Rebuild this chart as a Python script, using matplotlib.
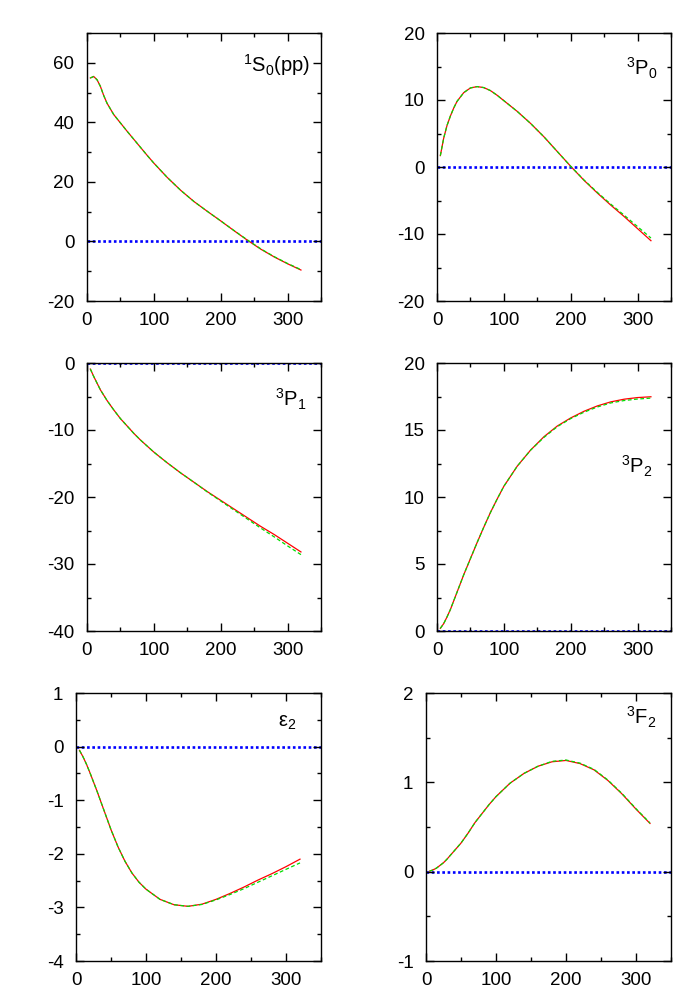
import matplotlib
matplotlib.use("Agg")
import matplotlib.pyplot as plt
from matplotlib.ticker import MultipleLocator

plt.rcParams['font.family'] = ['Liberation Sans', 'DejaVu Sans']
plt.rcParams['mathtext.fontset'] = 'custom'
plt.rcParams['mathtext.rm'] = 'Liberation Sans'
plt.rcParams['mathtext.it'] = 'Liberation Sans:italic'
plt.rcParams['mathtext.bf'] = 'Liberation Sans:bold'
plt.rcParams['axes.unicode_minus'] = False

energy = [5, 10, 15, 20, 25, 30, 40, 50, 60, 70, 80, 90, 100, 120, 140, 160,
          180, 200, 220, 240, 260, 280, 300, 320]

s0_red = [54.9, 55.4, 54.3, 52.1, 49.0, 46.4, 42.6, 39.8, 37.0, 34.3, 31.6, 28.9,
          26.3, 21.5, 17.2, 13.4, 10.1, 6.9, 3.6, 0.4, -2.6, -5.2, -7.5, -9.6]
s0_green = [54.9, 55.4, 54.3, 52.1, 49.0, 46.4, 42.6, 39.8, 37.0, 34.3, 31.6, 28.9,
            26.3, 21.5, 17.2, 13.4, 10.1, 6.9, 3.65, 0.5, -2.5, -5.1, -7.4, -9.45]

p0_red = [1.7, 4.3, 6.2, 7.6, 8.8, 9.8, 11.1, 11.8, 12.0, 11.85, 11.4, 10.7,
          9.9, 8.3, 6.5, 4.5, 2.3, 0.1, -2.0, -3.9, -5.7, -7.4, -9.2, -11.0]
p0_green = [1.7, 4.3, 6.2, 7.6, 8.8, 9.8, 11.1, 11.8, 12.0, 11.85, 11.4, 10.7,
            9.9, 8.3, 6.5, 4.5, 2.3, 0.1, -1.95, -3.8, -5.55, -7.2, -8.9, -10.6]

p1_red = [-0.9, -2.0, -3.0, -4.0, -4.8, -5.6, -7.0, -8.3, -9.4, -10.5, -11.5, -12.4,
          -13.3, -14.9, -16.4, -17.8, -19.2, -20.5, -21.8, -23.1, -24.4, -25.6, -26.9, -28.2]
p1_green = [-0.9, -2.0, -3.0, -4.0, -4.8, -5.6, -7.0, -8.3, -9.4, -10.5, -11.5, -12.4,
            -13.3, -14.9, -16.4, -17.8, -19.25, -20.6, -21.95, -23.3, -24.65, -25.95, -27.3, -28.6]

p2_red = [0.2, 0.55, 1.05, 1.6, 2.25, 2.9, 4.2, 5.4, 6.6, 7.75, 8.85, 9.85,
          10.8, 12.3, 13.5, 14.5, 15.3, 15.9, 16.4, 16.8, 17.1, 17.3, 17.42, 17.48]
p2_green = [0.2, 0.55, 1.05, 1.6, 2.25, 2.9, 4.2, 5.4, 6.6, 7.75, 8.85, 9.85,
            10.8, 12.3, 13.5, 14.45, 15.25, 15.85, 16.33, 16.72, 17.02, 17.2, 17.31, 17.38]

e2_red = [-0.07, -0.19, -0.33, -0.49, -0.66, -0.83, -1.19, -1.55, -1.87, -2.14, -2.36, -2.53,
          -2.66, -2.85, -2.95, -2.98, -2.94, -2.85, -2.74, -2.62, -2.49, -2.37, -2.24, -2.1]
e2_green = [-0.07, -0.19, -0.33, -0.49, -0.66, -0.83, -1.19, -1.55, -1.87, -2.14, -2.36, -2.53,
            -2.66, -2.85, -2.95, -2.98, -2.945, -2.86, -2.76, -2.65, -2.53, -2.41, -2.29, -2.17]

f2_red = [0.005, 0.02, 0.04, 0.07, 0.1, 0.14, 0.23, 0.32, 0.43, 0.55, 0.65, 0.75,
          0.84, 0.99, 1.1, 1.18, 1.23, 1.245, 1.21, 1.14, 1.02, 0.87, 0.7, 0.54]
f2_green = [0.005, 0.02, 0.04, 0.07, 0.1, 0.14, 0.23, 0.32, 0.43, 0.55, 0.65, 0.75,
            0.84, 0.99, 1.1, 1.18, 1.235, 1.25, 1.215, 1.145, 1.025, 0.875, 0.705, 0.545]

labels = [r'$^{1}$S$_{0}$(pp)', r'$^{3}$P$_{0}$', r'$^{3}$P$_{1}$',
          r'$^{3}$P$_{2}$', r'ε$_{2}$', r'$^{3}$F$_{2}$']
ylims = [(-20, 70), (-20, 20), (-40, 0), (0, 20), (-4, 1), (-1, 2)]
ymajor = [20, 10, 10, 5, 1, 1]
reds = [s0_red, p0_red, p1_red, p2_red, e2_red, f2_red]
greens = [s0_green, p0_green, p1_green, p2_green, e2_green, f2_green]

# layout (figure fractions)
rects = [
    (87 / 700, 0.699, 234 / 700, 0.268),
    (437 / 700, 0.699, 234 / 700, 0.268),
    (87 / 700, 0.369, 234 / 700, 0.268),
    (437 / 700, 0.369, 234 / 700, 0.268),
    (76 / 700, 0.039, 245 / 700, 0.268),
    (426 / 700, 0.039, 245 / 700, 0.268),
]
label_pos = [(0.953, 0.855), (0.944, 0.843), (0.936, 0.836),
             (0.922, 0.586), (0.898, 0.874), (0.939, 0.881)]

fig = plt.figure(figsize=(7, 10), dpi=100)
for i in range(6):
    ax = fig.add_axes(rects[i])
    ax.axhline(0, color='#0000ff', lw=1.9, linestyle=(0, (1, 1)), zorder=1)
    ax.plot(energy, reds[i], color='#ff0000', lw=0.9, zorder=2)
    ax.plot(energy, greens[i], color='#00dd00', lw=0.9, linestyle=(0, (3, 2)), zorder=3)
    ax.set_xlim(0, 350)
    ax.set_ylim(*ylims[i])
    ax.xaxis.set_major_locator(MultipleLocator(100))
    ax.xaxis.set_minor_locator(MultipleLocator(50))
    ax.yaxis.set_major_locator(MultipleLocator(ymajor[i]))
    ax.yaxis.set_minor_locator(MultipleLocator(ymajor[i] / 2))
    ax.tick_params(which='both', direction='in', top=True, right=True,
                   width=1.0, labelsize=13.5)
    ax.tick_params(which='major', length=6)
    ax.tick_params(which='minor', length=3)
    ax.tick_params(axis='y', which='major', pad=9)
    ax.tick_params(axis='x', which='major', pad=8)
    for sp in ax.spines.values():
        sp.set_linewidth(1.0)
    ax.text(label_pos[i][0], label_pos[i][1], labels[i], transform=ax.transAxes,
            ha='right', va='baseline', fontsize=14.5,
            bbox=dict(facecolor='white', edgecolor='none', pad=0.5))

fig.savefig('out.png', dpi=100)
